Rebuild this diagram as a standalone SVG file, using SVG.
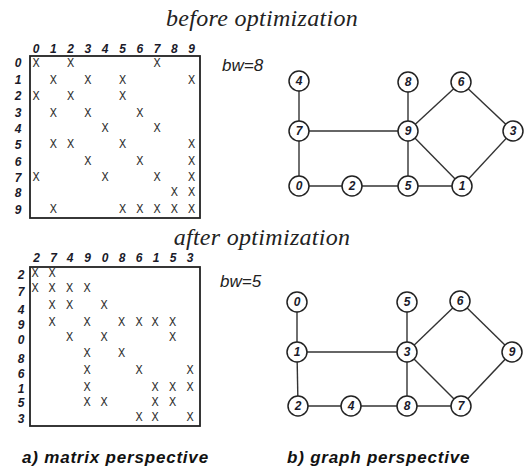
<svg xmlns="http://www.w3.org/2000/svg" width="526" height="471" viewBox="0 0 526 471">
<style>
.title{font-family:"Liberation Serif",serif;font-style:italic;font-size:24px;fill:#222;text-anchor:middle;letter-spacing:0.3px}
.bw{font-family:"Liberation Sans",sans-serif;font-style:italic;font-size:17px;fill:#222}
.lab{font-family:"Liberation Sans",sans-serif;font-style:italic;font-weight:bold;font-size:12px;fill:#1a1a2a;text-anchor:middle;dominant-baseline:central}
.x{font-family:"Liberation Mono",monospace;font-size:12px;fill:#333;text-anchor:middle;dominant-baseline:central}
.box{fill:none;stroke:#222;stroke-width:1.8}
.edge{stroke:#333;stroke-width:1.4;fill:none}
.node circle{fill:#fff;stroke:#222;stroke-width:1.5}
.node text{font-family:"Liberation Sans",sans-serif;font-style:italic;font-weight:bold;font-size:12px;fill:#1a1a2a;text-anchor:middle;dominant-baseline:central}
.cap{font-family:"Liberation Sans",sans-serif;font-style:italic;font-weight:bold;font-size:17px;fill:#111;letter-spacing:0.8px}
</style>

<text class="title" x="262" y="26">before optimization</text>
<text class="title" x="262" y="245">after optimization</text>
<text class="bw" x="222" y="71">bw=8</text>
<text class="bw" x="220" y="287">bw=5</text>

<!-- top matrix -->
<g id="matrix-before">
<rect class="box" x="30" y="56" width="170" height="162"/>
<g>
<text class="lab" x="36" y="49">0</text><text class="lab" x="53.3" y="49">1</text><text class="lab" x="70.6" y="49">2</text><text class="lab" x="87.9" y="49">3</text><text class="lab" x="105.2" y="49">4</text><text class="lab" x="122.5" y="49">5</text><text class="lab" x="139.8" y="49">6</text><text class="lab" x="157.1" y="49">7</text><text class="lab" x="174.4" y="49">8</text><text class="lab" x="191.7" y="49">9</text>
<text class="lab" x="18" y="63">0</text><text class="lab" x="18" y="79.5">1</text><text class="lab" x="18" y="96">2</text><text class="lab" x="18" y="112.5">3</text><text class="lab" x="18" y="128.5">4</text><text class="lab" x="18" y="145">5</text><text class="lab" x="18" y="161.5">6</text><text class="lab" x="18" y="177.5">7</text><text class="lab" x="18" y="193">8</text><text class="lab" x="18" y="209.5">9</text>
</g>
<g>
<text class="x" x="36" y="64">X</text><text class="x" x="70.6" y="64">X</text><text class="x" x="157.1" y="64">X</text>
<text class="x" x="53.3" y="80.5">X</text><text class="x" x="87.9" y="80.5">X</text><text class="x" x="122.5" y="80.5">X</text><text class="x" x="191.7" y="80.5">X</text>
<text class="x" x="36" y="97">X</text><text class="x" x="70.6" y="97">X</text><text class="x" x="122.5" y="97">X</text>
<text class="x" x="53.3" y="113.5">X</text><text class="x" x="87.9" y="113.5">X</text><text class="x" x="139.8" y="113.5">X</text>
<text class="x" x="105.2" y="129">X</text><text class="x" x="157.1" y="129">X</text>
<text class="x" x="53.3" y="145">X</text><text class="x" x="70.6" y="145">X</text><text class="x" x="122.5" y="145">X</text><text class="x" x="191.7" y="145">X</text>
<text class="x" x="87.9" y="161.5">X</text><text class="x" x="139.8" y="161.5">X</text><text class="x" x="191.7" y="161.5">X</text>
<text class="x" x="36" y="177.5">X</text><text class="x" x="105.2" y="177.5">X</text><text class="x" x="157.1" y="177.5">X</text><text class="x" x="191.7" y="177.5">X</text>
<text class="x" x="174.4" y="193">X</text><text class="x" x="191.7" y="193">X</text>
<text class="x" x="53.3" y="210">X</text><text class="x" x="122.5" y="210">X</text><text class="x" x="139.8" y="210">X</text><text class="x" x="157.1" y="210">X</text><text class="x" x="174.4" y="210">X</text><text class="x" x="191.7" y="210">X</text>
</g>
</g>

<!-- bottom matrix -->
<g id="matrix-after">
<rect class="box" x="30" y="267" width="170" height="159"/>
<g>
<text class="lab" x="36.5" y="258">2</text><text class="lab" x="53.5" y="258">7</text><text class="lab" x="70" y="258">4</text><text class="lab" x="87.5" y="258">9</text><text class="lab" x="105" y="258">0</text><text class="lab" x="122" y="258">8</text><text class="lab" x="139" y="258">6</text><text class="lab" x="156" y="258">1</text><text class="lab" x="173" y="258">5</text><text class="lab" x="190" y="258">3</text>
<text class="lab" x="21" y="275">2</text><text class="lab" x="21" y="292">7</text><text class="lab" x="21" y="310">4</text><text class="lab" x="21" y="325">9</text><text class="lab" x="21" y="340">0</text><text class="lab" x="21" y="359">8</text><text class="lab" x="21" y="374">6</text><text class="lab" x="21" y="388.5">1</text><text class="lab" x="21" y="403">5</text><text class="lab" x="21" y="419">3</text>
</g>
<g>
<text class="x" x="35" y="274">X</text><text class="x" x="52" y="274">X</text>
<text class="x" x="35" y="289">X</text><text class="x" x="52" y="289">X</text><text class="x" x="69.5" y="289">X</text><text class="x" x="87" y="289">X</text>
<text class="x" x="52" y="306">X</text><text class="x" x="69.5" y="306">X</text><text class="x" x="104" y="306">X</text>
<text class="x" x="52" y="323">X</text><text class="x" x="87" y="323">X</text><text class="x" x="121.5" y="323">X</text><text class="x" x="139" y="323">X</text><text class="x" x="155" y="323">X</text><text class="x" x="172.5" y="323">X</text>
<text class="x" x="69.5" y="338">X</text><text class="x" x="104" y="338">X</text><text class="x" x="172.5" y="338">X</text>
<text class="x" x="87" y="354">X</text><text class="x" x="121.5" y="354">X</text>
<text class="x" x="87" y="371">X</text><text class="x" x="139" y="371">X</text><text class="x" x="190" y="371">X</text>
<text class="x" x="87" y="388">X</text><text class="x" x="155" y="388">X</text><text class="x" x="172.5" y="388">X</text><text class="x" x="190" y="388">X</text>
<text class="x" x="87" y="403">X</text><text class="x" x="104" y="403">X</text><text class="x" x="155" y="403">X</text><text class="x" x="172.5" y="403">X</text>
<text class="x" x="139" y="418">X</text><text class="x" x="155" y="418">X</text><text class="x" x="190" y="418">X</text>
</g>
</g>

<!-- connectors -->
<g id="connectors">
<line class="edge" x1="299" y1="81" x2="299" y2="131"/>
<line class="edge" x1="299" y1="131" x2="408" y2="131"/>
<line class="edge" x1="299" y1="131" x2="299" y2="186"/>
<line class="edge" x1="408" y1="82" x2="408" y2="131"/>
<line class="edge" x1="408" y1="131" x2="461" y2="82"/>
<line class="edge" x1="461" y1="82" x2="513" y2="131"/>
<line class="edge" x1="408" y1="131" x2="408" y2="186"/>
<line class="edge" x1="408" y1="131" x2="462" y2="186"/>
<line class="edge" x1="513" y1="131" x2="462" y2="186"/>
<line class="edge" x1="299" y1="186" x2="462" y2="186"/>

<line class="edge" x1="297" y1="302" x2="297" y2="352"/>
<line class="edge" x1="297" y1="352" x2="407" y2="352"/>
<line class="edge" x1="297" y1="352" x2="298" y2="406"/>
<line class="edge" x1="407" y1="302" x2="407" y2="352"/>
<line class="edge" x1="407" y1="352" x2="460" y2="301"/>
<line class="edge" x1="460" y1="301" x2="512" y2="352"/>
<line class="edge" x1="407" y1="352" x2="407" y2="406"/>
<line class="edge" x1="407" y1="352" x2="461" y2="406"/>
<line class="edge" x1="512" y1="352" x2="461" y2="406"/>
<line class="edge" x1="298" y1="406" x2="461" y2="406"/>
</g>

<!-- top graph nodes -->
<g id="t4" class="node"><circle cx="299" cy="81" r="10"/><text x="299" y="81">4</text></g>
<g id="t8" class="node"><circle cx="408" cy="82" r="10"/><text x="408" y="82">8</text></g>
<g id="t6" class="node"><circle cx="461" cy="82" r="10"/><text x="461" y="82">6</text></g>
<g id="t7" class="node"><circle cx="299" cy="131" r="10"/><text x="299" y="131">7</text></g>
<g id="t9" class="node"><circle cx="408" cy="131" r="10"/><text x="408" y="131">9</text></g>
<g id="t3" class="node"><circle cx="513" cy="131" r="10"/><text x="513" y="131">3</text></g>
<g id="t0" class="node"><circle cx="299" cy="186" r="10"/><text x="299" y="186">0</text></g>
<g id="t2" class="node"><circle cx="352" cy="186" r="10"/><text x="352" y="186">2</text></g>
<g id="t5" class="node"><circle cx="408" cy="186" r="10"/><text x="408" y="186">5</text></g>
<g id="t1" class="node"><circle cx="462" cy="186" r="10"/><text x="462" y="186">1</text></g>

<!-- bottom graph nodes -->
<g id="b0" class="node"><circle cx="297" cy="302" r="10"/><text x="297" y="302">0</text></g>
<g id="b5" class="node"><circle cx="407" cy="302" r="10"/><text x="407" y="302">5</text></g>
<g id="b6" class="node"><circle cx="460" cy="301" r="10"/><text x="460" y="301">6</text></g>
<g id="b1" class="node"><circle cx="297" cy="352" r="10"/><text x="297" y="352">1</text></g>
<g id="b3" class="node"><circle cx="407" cy="352" r="10"/><text x="407" y="352">3</text></g>
<g id="b9" class="node"><circle cx="512" cy="352" r="10"/><text x="512" y="352">9</text></g>
<g id="b2" class="node"><circle cx="298" cy="406" r="10"/><text x="298" y="406">2</text></g>
<g id="b4" class="node"><circle cx="351" cy="406" r="10"/><text x="351" y="406">4</text></g>
<g id="b8" class="node"><circle cx="407" cy="406" r="10"/><text x="407" y="406">8</text></g>
<g id="b7" class="node"><circle cx="461" cy="406" r="10"/><text x="461" y="406">7</text></g>

<text class="cap" x="22" y="463">a) matrix perspective</text>
<text class="cap" x="287" y="463">b) graph perspective</text>
</svg>
